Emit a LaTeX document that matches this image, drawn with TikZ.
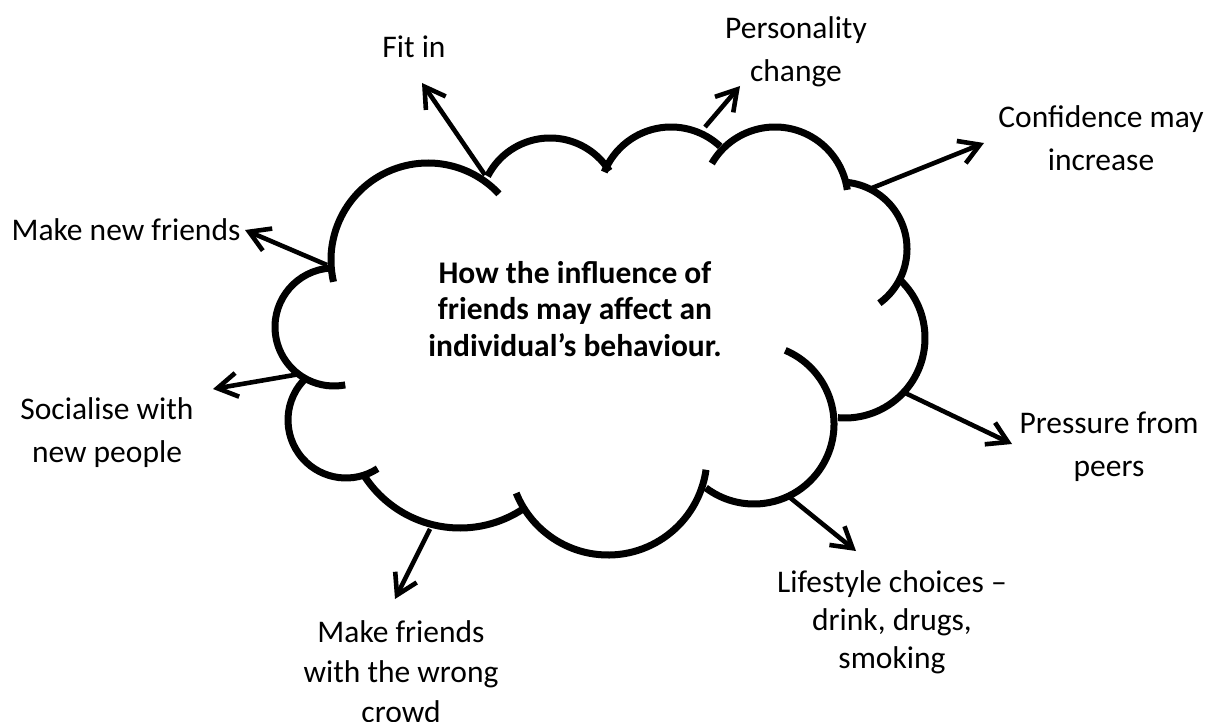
\documentclass[tikz,border=0pt]{standalone}
\usepackage{fontspec}
\setmainfont{Carlito}
\usetikzlibrary{arrows.meta}
\newcommand{\cloudarc}[5]{\draw[cloudline] ([shift={(#3:#4pt)}]#1,#2) arc[start angle=#3,end angle=#5,radius=#4pt];}
\newcommand{\fl}{\rule{0pt}{26pt}}
\tikzset{
  cloudline/.style={line width=7pt, line cap=butt},
  arr/.style={line width=4.6pt, -{Straight Barb[length=20pt,width=24pt]}},
  lbl/.style={font=\fontsize{31.5}{43}\selectfont, align=center, inner sep=0pt, anchor=north},
  mainlbl/.style={font=\bfseries\fontsize{31.5}{36.5}\selectfont, align=center, inner sep=0pt, anchor=north}
}
\begin{document}
\begin{tikzpicture}[x=1pt,y=-1pt]
\useasboundingbox[fill=white] (0,0) rectangle (1219,722);
% cloud
\cloudarc{428}{260}{193}{97}{43}
\cloudarc{550}{208}{153}{70}{32}
\cloudarc{671}{199}{158}{72}{47}
\cloudarc{775}{200}{150}{73}{8}
\cloudarc{840}{249}{84}{67}{-54}
\cloudarc{845}{338}{46}{80}{-95}
\cloudarc{754}{424}{67}{80}{-127}
\cloudarc{608}{456}{-8}{99}{-158}
\cloudarc{460}{414}{212}{114}{303}
\cloudarc{346}{420}{132}{58}{303}
\cloudarc{334}{327}{94}{59}{281}
% labels
\node[mainlbl] (main) at (575,257) {\fl How the influence of\\friends may affect an\\individual’s behaviour.};
\node[lbl] (fitin) at (414,31) {\fl Fit in};
\node[lbl] (pers) at (796,12) {\fl Personality\\change};
\node[lbl] (conf) at (1101,101) {\fl Confidence may\\increase};
\node[lbl] (mnf) at (126,214) {\fl Make new friends};
\node[lbl] (soc) at (107,393) {\fl Socialise with\\new people};
\node[lbl] (press) at (1109,407) {\fl Pressure from\\peers};
\node[lbl, font=\fontsize{31.5}{38}\selectfont] (life) at (892,566) {\fl Lifestyle choices –\\drink, drugs,\\smoking};
\node[lbl, font=\fontsize{31.5}{40}\selectfont] (wrong) at (401,616) {\fl Make friends\\with the wrong\\crowd};
% arrow ends
\coordinate (fitinS) at (485,175);  \coordinate (fitinT) at (422,83);
\coordinate (persS) at (705,127);   \coordinate (persT) at (740,86);
\coordinate (confS) at (872,188);   \coordinate (confT) at (984,143);
\coordinate (mnfS) at (327,265);    \coordinate (mnfT) at (245,230);
\coordinate (socS) at (300,374);    \coordinate (socT) at (213,389);
\coordinate (wrongS) at (430,529);  \coordinate (wrongT) at (395,599);
\coordinate (lifeS) at (788,496);   \coordinate (lifeT) at (856,551);
\coordinate (pressS) at (901,391);  \coordinate (pressT) at (1012,444);
\draw[arr] (fitinS) -- (fitinT);
\draw[arr] (persS) -- (persT);
\draw[arr] (confS) -- (confT);
\draw[arr] (mnfS) -- (mnfT);
\draw[arr] (socS) -- (socT);
\draw[arr] (wrongS) -- (wrongT);
\draw[arr] (lifeS) -- (lifeT);
\draw[arr] (pressS) -- (pressT);
\end{tikzpicture}
\end{document}
